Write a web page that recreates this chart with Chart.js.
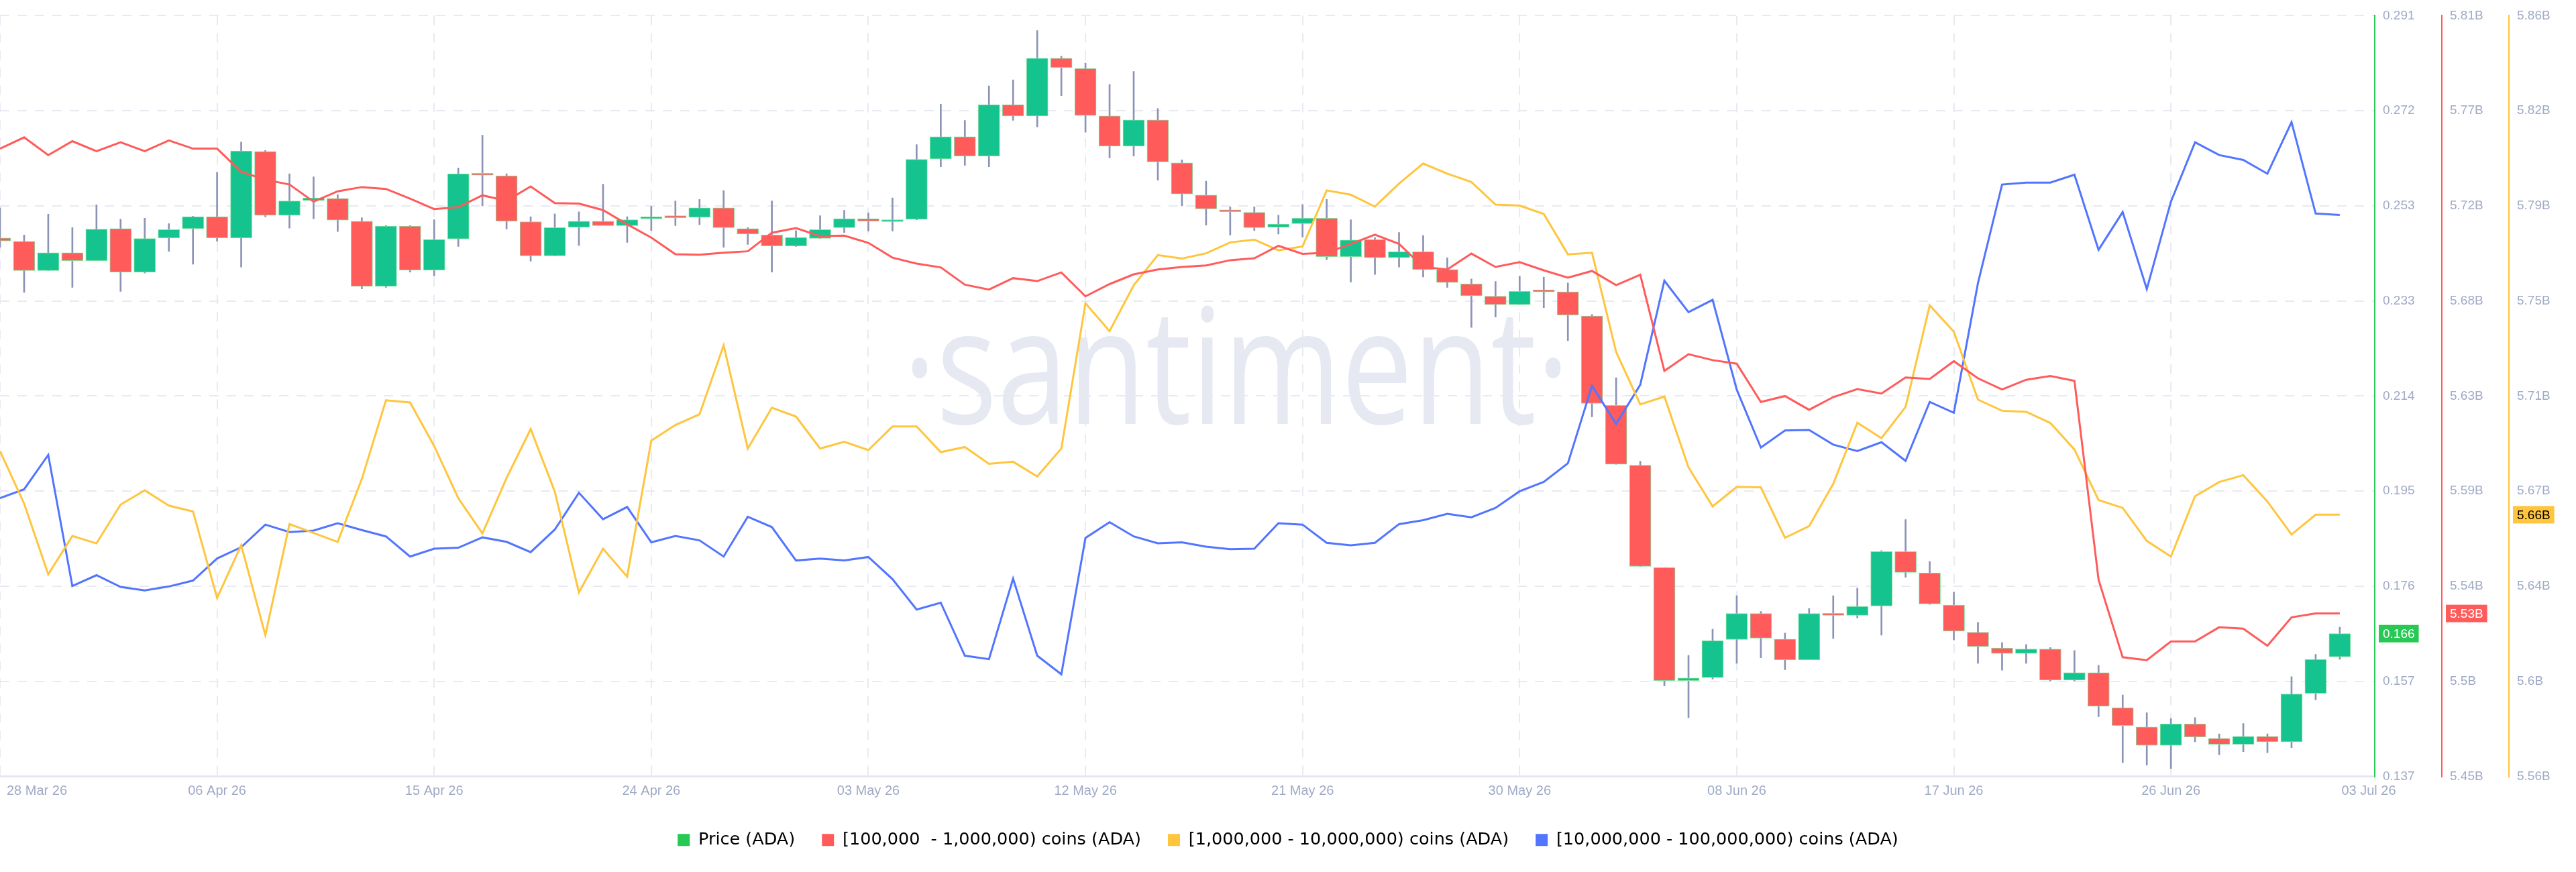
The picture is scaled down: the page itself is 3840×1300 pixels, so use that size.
<!DOCTYPE html>
<html>
<head>
<meta charset="utf-8">
<title>ADA price vs holder supply</title>
<script src="https://cdn.jsdelivr.net/npm/chart.js@4.4.1/dist/chart.umd.min.js"></script>
<style>
  html, body { margin: 0; padding: 0; background: #ffffff; }
  #wrap { position: relative; width: 3840px; height: 1300px; }
</style>
</head>
<body>
<div id="wrap"><canvas id="chart" width="3840" height="1300"></canvas></div>
<script>
// daily candles, 28 Mar 26 -> 03 Jul 26
const priceOpen = [
  0.2460, 0.2453, 0.2394, 0.2430, 0.2414, 0.2479, 0.2391, 0.2460, 0.2479, 0.2503,
  0.2460, 0.2635, 0.2506, 0.2536, 0.2540, 0.2494, 0.2362, 0.2484, 0.2395, 0.2458,
  0.2590, 0.2586, 0.2493, 0.2424, 0.2482, 0.2494, 0.2485, 0.2499, 0.2503, 0.2502,
  0.2521, 0.2479, 0.2466, 0.2444, 0.2459, 0.2481, 0.2499, 0.2493, 0.2498, 0.2620,
  0.2665, 0.2626, 0.2730, 0.2707, 0.2824, 0.2803, 0.2707, 0.2646, 0.2699, 0.2612,
  0.2547, 0.2517, 0.2512, 0.2482, 0.2489, 0.2500, 0.2422, 0.2457, 0.2420, 0.2432,
  0.2396, 0.2367, 0.2342, 0.2325, 0.2353, 0.2351, 0.2302, 0.2121, 0.2000, 0.1793,
  0.1564, 0.1570, 0.1647, 0.1700, 0.1648, 0.1606, 0.1700, 0.1696, 0.1715, 0.1825,
  0.1782, 0.1717, 0.1662, 0.1630, 0.1619, 0.1628, 0.1565, 0.1580, 0.1509, 0.1470,
  0.1433, 0.1476, 0.1447, 0.1435, 0.1451, 0.1440, 0.1538, 0.1612
];
const priceHigh = [
  0.2521, 0.2466, 0.2508, 0.2481, 0.2527, 0.2498, 0.2500, 0.2489, 0.2504, 0.2593,
  0.2654, 0.2637, 0.2590, 0.2584, 0.2548, 0.2501, 0.2485, 0.2485, 0.2497, 0.2602,
  0.2668, 0.2590, 0.2503, 0.2509, 0.2513, 0.2569, 0.2503, 0.2524, 0.2535, 0.2538,
  0.2556, 0.2481, 0.2535, 0.2475, 0.2505, 0.2516, 0.2511, 0.2541, 0.2649, 0.2731,
  0.2698, 0.2768, 0.2780, 0.2880, 0.2828, 0.2814, 0.2771, 0.2797, 0.2722, 0.2618,
  0.2575, 0.2523, 0.2523, 0.2506, 0.2528, 0.2538, 0.2497, 0.2461, 0.2471, 0.2465,
  0.2420, 0.2377, 0.2372, 0.2383, 0.2381, 0.2369, 0.2305, 0.2177, 0.2008, 0.1793,
  0.1615, 0.1668, 0.1736, 0.1704, 0.1660, 0.1710, 0.1736, 0.1751, 0.1827, 0.1890,
  0.1805, 0.1743, 0.1682, 0.1641, 0.1637, 0.1631, 0.1625, 0.1595, 0.1535, 0.1499,
  0.1487, 0.1489, 0.1456, 0.1477, 0.1456, 0.1572, 0.1617, 0.1672
];
const priceLow = [
  0.2441, 0.2350, 0.2394, 0.2360, 0.2414, 0.2352, 0.2389, 0.2433, 0.2407, 0.2453,
  0.2401, 0.2503, 0.2480, 0.2499, 0.2473, 0.2357, 0.2360, 0.2391, 0.2383, 0.2443,
  0.2525, 0.2478, 0.2413, 0.2424, 0.2445, 0.2494, 0.2451, 0.2475, 0.2485, 0.2487,
  0.2441, 0.2447, 0.2391, 0.2443, 0.2459, 0.2471, 0.2474, 0.2474, 0.2497, 0.2604,
  0.2607, 0.2604, 0.2698, 0.2685, 0.2748, 0.2674, 0.2622, 0.2626, 0.2577, 0.2525,
  0.2486, 0.2466, 0.2475, 0.2468, 0.2462, 0.2416, 0.2371, 0.2386, 0.2401, 0.2381,
  0.2360, 0.2279, 0.2300, 0.2325, 0.2319, 0.2252, 0.2098, 0.2002, 0.1795, 0.1553,
  0.1489, 0.1567, 0.1599, 0.1610, 0.1586, 0.1606, 0.1649, 0.1691, 0.1656, 0.1773,
  0.1718, 0.1646, 0.1599, 0.1585, 0.1599, 0.1563, 0.1563, 0.1491, 0.1398, 0.1393,
  0.1386, 0.1440, 0.1414, 0.1420, 0.1418, 0.1428, 0.1525, 0.1607
];
const priceClose = [
  0.2454, 0.2394, 0.2430, 0.2414, 0.2478, 0.2391, 0.2459, 0.2477, 0.2503, 0.2460,
  0.2636, 0.2506, 0.2535, 0.2541, 0.2496, 0.2362, 0.2484, 0.2395, 0.2457, 0.2590,
  0.2587, 0.2494, 0.2424, 0.2481, 0.2494, 0.2485, 0.2497, 0.2503, 0.2501, 0.2521,
  0.2481, 0.2468, 0.2444, 0.2461, 0.2477, 0.2499, 0.2494, 0.2497, 0.2619, 0.2665,
  0.2626, 0.2730, 0.2707, 0.2824, 0.2805, 0.2708, 0.2646, 0.2699, 0.2614, 0.2549,
  0.2519, 0.2513, 0.2481, 0.2488, 0.2500, 0.2422, 0.2456, 0.2420, 0.2432, 0.2396,
  0.2370, 0.2343, 0.2325, 0.2352, 0.2351, 0.2304, 0.2125, 0.2002, 0.1795, 0.1564,
  0.1569, 0.1645, 0.1700, 0.1650, 0.1606, 0.1700, 0.1696, 0.1714, 0.1825, 0.1783,
  0.1719, 0.1664, 0.1633, 0.1619, 0.1628, 0.1565, 0.1580, 0.1512, 0.1473, 0.1433,
  0.1476, 0.1450, 0.1435, 0.1451, 0.1440, 0.1537, 0.1607, 0.1659
];

// supply held by each cohort, billions of ADA
const supply100k = [
  5.7471, 5.7524, 5.7440, 5.7506, 5.7459, 5.7501, 5.7459, 5.7510, 5.7471, 5.7471,
  5.7361, 5.7324, 5.7301, 5.7220, 5.7269, 5.7289, 5.7280, 5.7234, 5.7185, 5.7194,
  5.7250, 5.7224, 5.7292, 5.7213, 5.7211, 5.7180, 5.7113, 5.7050, 5.6971, 5.6969,
  5.6978, 5.6985, 5.7073, 5.7095, 5.7057, 5.7059, 5.7025, 5.6955, 5.6927, 5.6909,
  5.6827, 5.6804, 5.6858, 5.6844, 5.6885, 5.6772, 5.6830, 5.6876, 5.6899, 5.6911,
  5.6918, 5.6943, 5.6952, 5.7011, 5.6973, 5.6978, 5.7020, 5.7064, 5.7020, 5.6911,
  5.6899, 5.6974, 5.6911, 5.6934, 5.6895, 5.6860, 5.6892, 5.6825, 5.6874, 5.6419,
  5.6498, 5.6470, 5.6453, 5.6272, 5.6300, 5.6235, 5.6295, 5.6333, 5.6312, 5.6388,
  5.6381, 5.6465, 5.6384, 5.6331, 5.6377, 5.6395, 5.6372, 5.5431, 5.5064, 5.5050,
  5.5139, 5.5139, 5.5206, 5.5199, 5.5118, 5.5253, 5.5271, 5.5271
];
const supply1m = [
  5.6883, 5.6676, 5.6397, 5.6548, 5.6519, 5.6672, 5.6728, 5.6668, 5.6645, 5.6304,
  5.6512, 5.6157, 5.6595, 5.6560, 5.6525, 5.6773, 5.7083, 5.7075, 5.6903, 5.6697,
  5.6558, 5.6777, 5.6970, 5.6723, 5.6326, 5.6498, 5.6388, 5.6924, 5.6986, 5.7028,
  5.7300, 5.6893, 5.7054, 5.7019, 5.6893, 5.6920, 5.6887, 5.6980, 5.6980, 5.6879,
  5.6899, 5.6833, 5.6841, 5.6783, 5.6893, 5.7466, 5.7356, 5.7537, 5.7656, 5.7642,
  5.7663, 5.7706, 5.7717, 5.7675, 5.7690, 5.7911, 5.7894, 5.7847, 5.7938, 5.8017,
  5.7977, 5.7944, 5.7855, 5.7851, 5.7818, 5.7659, 5.7665, 5.7274, 5.7067, 5.7098,
  5.6819, 5.6665, 5.6742, 5.6740, 5.6541, 5.6587, 5.6754, 5.6995, 5.6934, 5.7057,
  5.7458, 5.7354, 5.7086, 5.7042, 5.7038, 5.6994, 5.6889, 5.6690, 5.6659, 5.6529,
  5.6467, 5.6705, 5.6761, 5.6788, 5.6684, 5.6554, 5.6632, 5.6632
];
const supply10m = [
  9.567, 9.585, 9.655, 9.388, 9.410, 9.386, 9.379, 9.387, 9.399, 9.444,
  9.467, 9.513, 9.498, 9.501, 9.516, 9.502, 9.489, 9.448, 9.464, 9.466,
  9.487, 9.478, 9.457, 9.503, 9.578, 9.524, 9.549, 9.477, 9.490, 9.481,
  9.448, 9.529, 9.508, 9.440, 9.444, 9.440, 9.447, 9.402, 9.340, 9.354,
  9.246, 9.239, 9.403, 9.246, 9.208, 9.486, 9.518, 9.489, 9.475, 9.477,
  9.468, 9.463, 9.464, 9.516, 9.513, 9.476, 9.471, 9.476, 9.514, 9.522,
  9.535, 9.528, 9.547, 9.581, 9.600, 9.638, 9.796, 9.718, 9.798, 10.010,
  9.946, 9.971, 9.788, 9.670, 9.705, 9.706, 9.676, 9.663, 9.681, 9.643,
  9.763, 9.741, 10.005, 10.206, 10.210, 10.210, 10.226, 10.073, 10.150, 9.993,
  10.171, 10.292, 10.266, 10.256, 10.228, 10.333, 10.147, 10.144
];

// x axis: day number since 28 Mar 26
const xTickDays = [0, 9, 18, 27, 36, 45, 54, 63, 72, 81, 90, 98.2];
const xTickLabels = ['28 Mar 26', '06 Apr 26', '15 Apr 26', '24 Apr 26', '03 May 26', '12 May 26',
  '21 May 26', '30 May 26', '08 Jun 26', '17 Jun 26', '26 Jun 26', '03 Jul 26'];

const priceTickLabels = ['0.137', '0.157', '0.176', '0.195', '0.214', '0.233', '0.253', '0.272', '0.291'];
const supply100kTickLabels = ['5.45B', '5.5B', '5.54B', '5.59B', '5.63B', '5.68B', '5.72B', '5.77B', '5.81B'];
const supply1mTickLabels = ['5.56B', '5.6B', '5.64B', '5.67B', '5.71B', '5.75B', '5.79B', '5.82B', '5.86B'];

const legendNames = ['Price (ADA)', '[100,000  - 1,000,000) coins (ADA)',
  '[1,000,000 - 10,000,000) coins (ADA)', '[10,000,000 - 100,000,000) coins (ADA)'];

const GREEN = '#26c953';
const CANDLE_UP = '#14c38e';
const RED = '#ff5b5b';
const YELLOW = '#ffc53d';
const BLUE = '#5275ff';
const TICK_COLOR = '#a0aac6';
const GRID_COLOR = '#e8eaf3';

const days = priceOpen.map((_, i) => i);

// 8 equal steps between min and max, like the santiment axes
function evenTicks(scale) {
  const out = [];
  for (let k = 0; k <= 8; k++) {
    out.push({ value: scale.min + (scale.max - scale.min) * k / 8 });
  }
  scale.ticks = out;
}

function rightAxis(min, max, color, labels, showGrid) {
  return {
    type: 'linear',
    position: 'right',
    min: min,
    max: max,
    afterBuildTicks: evenTicks,
    afterFit: function (scale) { scale.width = 100; },
    grid: { display: showGrid, drawOnChartArea: showGrid, color: GRID_COLOR, lineWidth: 2, drawTicks: false },
    border: { display: true, color: color, width: 2, dash: [14, 12] },
    ticks: {
      padding: 12,
      color: TICK_COLOR,
      font: { family: 'Liberation Sans', size: 19 },
      callback: function (v, i) { return labels[i]; }
    }
  };
}

const decorPlugin = {
  id: 'decor',
  beforeDraw(chart) {
    // watermark
    const ctx = chart.ctx;
    ctx.save();
    ctx.font = '400 240px "Open Sans"';
    const text = '\u00b7santiment\u00b7';
    const w = ctx.measureText(text).width;
    ctx.translate(1843, 632);
    ctx.scale(994 / w, 1);
    ctx.fillStyle = '#e6e9f2';
    ctx.textAlign = 'center';
    ctx.textBaseline = 'alphabetic';
    ctx.fillText(text, 0, 0);
    ctx.restore();
  },
  afterDraw(chart) {
    const ctx = chart.ctx;
    const x = chart.scales.x;
    ctx.save();

    // date labels under the plot
    ctx.font = '20px "Liberation Sans"';
    ctx.fillStyle = TICK_COLOR;
    ctx.textBaseline = 'middle';
    ctx.textAlign = 'left';
    xTickDays.forEach(function (d, i) {
      const w = ctx.measureText(xTickLabels[i]).width;
      let left = x.getPixelForValue(d) - w / 2;
      left = Math.max(left, 10);
      ctx.fillText(xTickLabels[i], left, chart.chartArea.bottom + 22);
    });

    // last value tags on the axes
    const last = days.length - 1;
    function tag(scale, value, text, bg, fg) {
      const y = scale.getPixelForValue(value);
      ctx.font = '19px "Liberation Sans"';
      const w = ctx.measureText(text).width;
      ctx.fillStyle = bg;
      ctx.fillRect(scale.left + 6, y - 13, w + 12, 26);
      ctx.fillStyle = fg;
      ctx.fillText(text, scale.left + 12, y + 1);
    }
    tag(chart.scales.yPrice, priceClose[last], priceClose[last].toFixed(3), GREEN, '#ffffff');
    tag(chart.scales.y100k, supply100k[last], supply100k[last].toFixed(2) + 'B', RED, '#ffffff');
    tag(chart.scales.y1m, supply1m[last], supply1m[last].toFixed(2) + 'B', YELLOW, '#000000');
    ctx.restore();
  }
};

const ctx = document.getElementById('chart').getContext('2d');
new Chart(ctx, {
  type: 'line',
  data: {
    datasets: [
      {
        type: 'line',
        label: legendNames[1],
        data: days.map(i => ({ x: i, y: supply100k[i] })),
        yAxisID: 'y100k',
        borderColor: RED,
        borderWidth: 3,
        pointRadius: 0,
        tension: 0,
        order: 0
      },
      {
        type: 'line',
        label: legendNames[2],
        data: days.map(i => ({ x: i, y: supply1m[i] })),
        yAxisID: 'y1m',
        borderColor: YELLOW,
        borderWidth: 3,
        pointRadius: 0,
        tension: 0,
        order: 0
      },
      {
        type: 'line',
        label: legendNames[3],
        data: days.map(i => ({ x: i, y: supply10m[i] })),
        yAxisID: 'y10m',
        borderColor: BLUE,
        borderWidth: 3,
        pointRadius: 0,
        tension: 0,
        order: 0
      },
      {
        // candle bodies
        type: 'bar',
        label: legendNames[0],
        data: days.map(i => ({ x: i, y: [priceOpen[i], priceClose[i]] })),
        yAxisID: 'yPrice',
        backgroundColor: c => priceClose[c.dataIndex] >= priceOpen[c.dataIndex] ? CANDLE_UP : RED,
        borderColor: '#84df9f',
        borderWidth: 1,
        borderSkipped: false,
        barThickness: 32,
        minBarLength: 3,
        grouped: false,
        order: 2
      },
      {
        // wicks
        type: 'bar',
        label: 'wick',
        data: days.map(i => ({ x: i, y: [priceLow[i], priceHigh[i]] })),
        yAxisID: 'yPrice',
        backgroundColor: '#8b93b6',
        borderWidth: 0,
        barThickness: 2,
        grouped: false,
        order: 3
      }
    ]
  },
  options: {
    responsive: false,
    animation: false,
    events: [],
    layout: { padding: { top: 12, bottom: 25, left: 0, right: 0 } },
    scales: {
      x: {
        type: 'linear',
        min: 0,
        max: 98.45,
        offset: false,
        afterBuildTicks: function (scale) {
          scale.ticks = xTickDays.slice(0, -1).map(v => ({ value: v }));
        },
        afterFit: function (scale) { scale.height = 42; },
        grid: { color: GRID_COLOR, lineWidth: 2, drawTicks: false, offset: false },
        border: { display: true, color: '#e4e7f2', width: 3, dash: [14, 12] },
        ticks: { display: false }
      },
      yPrice: Object.assign(rightAxis(0.137, 0.291, GREEN, priceTickLabels, true), { weight: 1 }),
      y100k: Object.assign(rightAxis(5.45, 5.81, RED, supply100kTickLabels, false), { weight: 2 }),
      y1m: Object.assign(rightAxis(5.56, 5.86, YELLOW, supply1mTickLabels, false), { weight: 3 }),
      y10m: { type: 'linear', display: false, min: 9.0, max: 10.55 }
    },
    plugins: {
      tooltip: { enabled: false },
      legend: {
        display: true,
        position: 'bottom',
        labels: {
          boxWidth: 18,
          boxHeight: 18,
          padding: 40,
          color: '#1c1f31',
          font: { family: 'DejaVu Sans', size: 25.5 },
          generateLabels: function () {
            const colors = [GREEN, RED, YELLOW, BLUE];
            return legendNames.map((t, i) => ({
              text: t, fillStyle: colors[i], strokeStyle: colors[i], lineWidth: 0, hidden: false, datasetIndex: i
            }));
          }
        }
      }
    }
  },
  plugins: [decorPlugin]
});
</script>
</body>
</html>
